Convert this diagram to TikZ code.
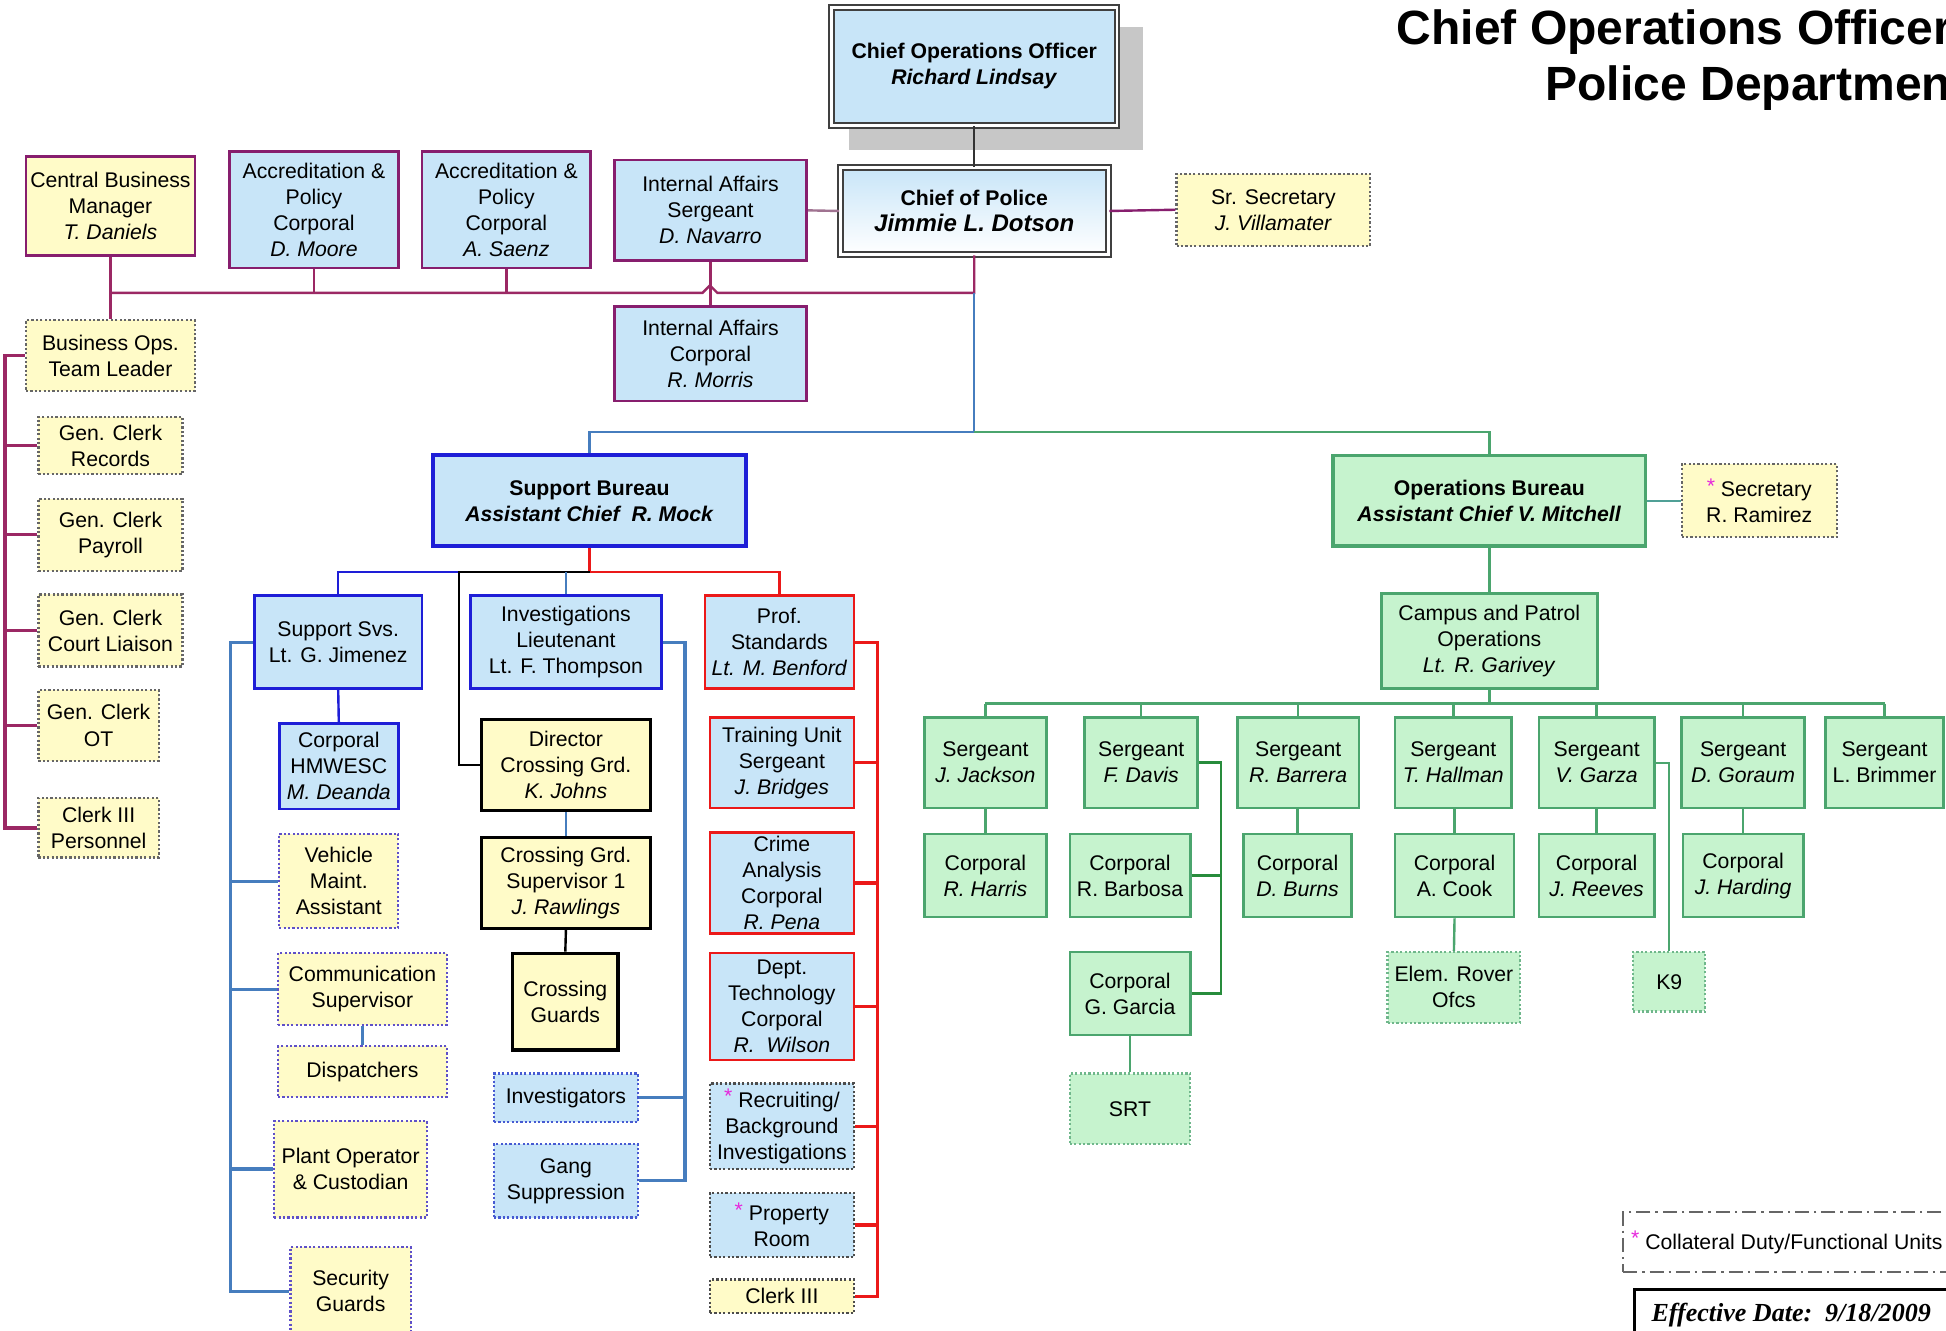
\documentclass[tikz,border=0pt]{standalone}
\usepackage{fontspec}
\setmainfont{Liberation Sans}
\newfontfamily\serifface{Liberation Serif}
\definecolor{fblue}{RGB}{200,229,248}
\definecolor{fyel}{RGB}{255,251,200}
\definecolor{fgrn}{RGB}{198,243,206}
\definecolor{cpurp}{RGB}{135,30,110}
\definecolor{cbus}{RGB}{155,40,100}
\definecolor{cmauve}{RGB}{160,115,145}
\definecolor{cblue}{RGB}{30,30,215}
\definecolor{cred}{RGB}{235,25,25}
\definecolor{cgrn}{RGB}{75,165,110}
\definecolor{cdkgrn}{RGB}{40,140,60}
\definecolor{cteal}{RGB}{80,160,150}
\definecolor{csteel}{RGB}{70,125,190}
\definecolor{cdotp}{RGB}{95,80,200}
\definecolor{cdotb}{RGB}{70,90,210}
\definecolor{cstar}{RGB}{230,40,220}
\newcommand\starm{\textcolor{cstar}{\raisebox{0.3ex}{*}}}
\newcommand\bx[7]{\node[#2, minimum width={(#5-#3)*0.62pt}, minimum height={(#6-#4)*0.62pt}] (#1) at ({(#3+#5)/2},{(#4+#6)/2}) {#7};}
\tikzset{
  box/.style={inner sep=0pt, align=center, font=\fontsize{10.6}{13}\selectfont, line width=1.3pt},
  dotb/.style={dash pattern=on 1.1pt off 1.1pt, line width=1.1pt},
  pbox/.style={box, draw=cpurp, fill=fblue},
  pybox/.style={box, draw=cpurp, fill=fyel},
  ydot/.style={box, dotb, draw=black!60, fill=fyel},
  bbox/.style={box, draw=cblue, fill=fblue},
  rbox/.style={box, draw=cred, fill=fblue},
  kbox/.style={box, draw=black, fill=fyel, line width=1.6pt},
  vdot/.style={box, dotb, draw=cdotp, fill=fyel},
  bdot/.style={box, dotb, draw=cdotb, fill=fblue},
  gdot/.style={box, dotb, draw=black!70, fill=fblue},
  gydot/.style={box, dotb, draw=black!70, fill=fyel},
  gbox/.style={box, draw=cgrn, fill=fgrn},
  gdotbox/.style={box, dotb, draw=cgrn!80, fill=fgrn},
  dbl/.style={box, draw=black!75, double=white, double distance=1.4pt, line width=1pt},
  cl/.style={line width=1.2pt},
}
\begin{document}
\begin{tikzpicture}[x=0.62pt, y=-0.62pt]
\fill[white] (0,0) rectangle (1568,1072);
\useasboundingbox (0,0) rectangle (1568,1072);

% title
\node[anchor=base west, inner sep=0pt, font=\fontsize{24}{28}\selectfont\bfseries] (t1) at (1125,36) {Chief Operations Officer};
\node[anchor=base west, inner sep=0pt, font=\fontsize{24}{28}\selectfont\bfseries] (t2) at (1245,81) {Police Department};

% top level
\fill[black!22] (684,22) rectangle (921,121);
\bx{coo}{dbl, fill=fblue}{670}{6}{900}{101}{\textbf{Chief Operations Officer}\\\textbf{\textit{Richard Lindsay}}}
\bx{cop}{dbl, top color=fblue, bottom color=white}{677}{135}{893}{205}{\textbf{Chief of Police}\\{\fontsize{12}{13}\selectfont\textbf{\textit{Jimmie L. Dotson}}}}
\bx{srsec}{ydot}{948}{140}{1104}{198}{Sr. Secretary\\\textit{J. Villamater}}
\bx{iasgt}{pbox}{495}{129}{650}{210}{Internal Affairs\\Sergeant\\\textit{D. Navarro}}
\bx{iacpl}{pbox}{495}{247}{650}{323}{Internal Affairs\\Corporal\\\textit{R. Morris}}
\bx{moore}{pbox}{185}{122}{321}{216}{Accreditation \&\\Policy\\Corporal\\\textit{D. Moore}}
\bx{saenz}{pbox}{340}{122}{476}{216}{Accreditation \&\\Policy\\Corporal\\\textit{A. Saenz}}
\bx{cbm}{pybox}{21}{126}{157}{206}{Central Business\\Manager\\\textit{T. Daniels}}
\bx{bops}{ydot}{21}{258}{157}{315}{Business Ops.\\Team Leader}
\bx{c1}{ydot}{31}{336}{147}{382}{Gen. Clerk\\Records}
\bx{c2}{ydot}{31}{402}{147}{460}{Gen. Clerk\\Payroll}
\bx{c3}{ydot}{31}{479}{147}{537}{Gen. Clerk\\Court Liaison}
\bx{c4}{ydot}{31}{556}{128}{613}{Gen. Clerk\\OT}
\bx{c5}{ydot}{31}{643}{128}{691}{Clerk III\\Personnel}

\coordinate (bus) at (0,236);
\coordinate (lbar) at (4,0);
\coordinate (mbus) at (0,348);
\draw[cl, black!80] (coo.south) -- (cop.north);
\draw[cl, cpurp] (cop.east) -- (srsec.west);
\draw[cl, cmauve] (iasgt.east) -- (cop.west);
\draw[cl, cbus] (cop.south) -- (cop.south |- bus) -- (578,236) -- (572,230) -- (566,236) -- (cbm.south |- bus);
\draw[cl, cbus] (cbm.south) -- (bops.north);
\draw[cl, cbus] (moore.south) -- (moore.south |- bus);
\draw[cl, cbus] (saenz.south) -- (saenz.south |- bus);
\draw[cl, cbus] (iasgt.south) -- (iacpl.north);
\draw[line width=1.7pt, cbus] (bops.west) -- (bops.west -| lbar) -- (lbar |- c5.west) -- (c5.west);
\foreach \n in {c1,c2,c3,c4} { \draw[line width=1.5pt, cbus] (\n.west) -- (\n.west -| lbar); }

% bureaus
\bx{sb}{bbox, line width=2pt}{349}{367}{601}{440}{\textbf{Support Bureau}\\\textbf{\textit{Assistant Chief\ \ R. Mock}}}
\bx{ob}{gbox, line width=1.6pt}{1074}{367}{1326}{440}{\textbf{Operations Bureau}\\\textbf{\textit{Assistant Chief V. Mitchell}}}
\bx{osec}{ydot}{1355}{374}{1480}{433}{\starm\ Secretary\\R. Ramirez}
\draw[cl, csteel] (cop.south |- bus) -- (cop.south |- mbus) -- (sb.north |- mbus) -- (sb.north);
\draw[cl, cgrn] (cop.south |- mbus) -- (ob.north |- mbus) -- (ob.north);
\draw[cl, cteal] (ob.east) -- (osec.west);

% operations
\bx{cpo}{gbox}{1113}{478}{1287}{555}{Campus and Patrol\\Operations\\\textit{Lt. R. Garivey}}
\bx{s1}{gbox}{745}{578}{843}{651}{Sergeant\\\textit{J. Jackson}}
\bx{s2}{gbox}{874}{578}{965}{651}{Sergeant\\\textit{F. Davis}}
\bx{s3}{gbox}{997}{578}{1095}{651}{Sergeant\\\textit{R. Barrera}}
\bx{s4}{gbox}{1124}{578}{1218}{651}{Sergeant\\\textit{T. Hallman}}
\bx{s5}{gbox}{1240}{578}{1333}{651}{Sergeant\\\textit{V. Garza}}
\bx{s6}{gbox}{1355}{578}{1454}{651}{Sergeant\\\textit{D. Goraum}}
\bx{s7}{gbox}{1471}{578}{1566}{651}{Sergeant\\L. Brimmer}
\bx{k1}{gbox}{745}{672}{843}{739}{Corporal\\\textit{R. Harris}}
\bx{k2}{gbox}{862}{672}{959}{739}{Corporal\\R. Barbosa}
\bx{k3}{gbox}{1002}{672}{1089}{739}{Corporal\\\textit{D. Burns}}
\bx{k4}{gbox}{1124}{672}{1220}{739}{Corporal\\A. Cook}
\bx{k5}{gbox}{1240}{672}{1333}{739}{Corporal\\\textit{J. Reeves}}
\bx{k6}{gbox}{1356}{672}{1453}{739}{Corporal\\\textit{J. Harding}}
\bx{garcia}{gbox}{862}{767}{959}{834}{Corporal\\G. Garcia}
\bx{srt}{gdotbox}{862}{865}{959}{922}{SRT}
\bx{rover}{gdotbox}{1118}{767}{1225}{824}{Elem. Rover\\Ofcs}
\bx{kn}{gdotbox}{1316}{767}{1374}{815}{K9}

\coordinate (sbus) at (0,567);
\coordinate (dv) at (984,0);
\draw[cl, cgrn] (ob.south) -- (cpo.north);
\draw[cl, cgrn] (cpo.south) -- (cpo.south |- sbus);
\draw[cl, cgrn] (s1.north |- sbus) -- (s7.north |- sbus);
\foreach \n in {s1,s2,s3,s4,s5,s6,s7} { \draw[cl, cgrn] (\n.north |- sbus) -- (\n.north); }
\draw[cl, cgrn] (s1.south) -- (k1.north);
\draw[cl, cgrn] (k3.north |- s3.south) -- (k3.north);
\draw[cl, cgrn] (k4.north |- s4.south) -- (k4.north);
\draw[cl, cgrn] (k4.south) -- (rover.north);
\draw[cl, cgrn] (s5.south) -- (k5.north);
\draw[cl, cgrn] (s6.south) -- (k6.north);
\draw[cl, cgrn] (garcia.south) -- (srt.north);
\draw[cl, cdkgrn] (s2.east) -- (s2.east -| dv) -- (dv |- garcia.east) -- (garcia.east);
\draw[cl, cdkgrn] (k2.east) -- (k2.east -| dv);
\draw[line width=0.9pt, cgrn] (s5.east) -| (kn.north);

% support bureau children
\bx{ss}{bbox}{205}{480}{340}{555}{Support Svs.\\Lt. G. Jimenez}
\bx{inv}{bbox}{379}{480}{533}{555}{Investigations\\Lieutenant\\Lt. F. Thompson}
\bx{prof}{rbox}{568}{480}{688}{555}{Prof.\\Standards\\\textit{Lt. M. Benford}}
\bx{hm}{bbox}{225}{583}{321}{652}{Corporal\\HMWESC\\\textit{M. Deanda}}
\bx{vm}{vdot}{225}{672}{321}{748}{Vehicle\\Maint.\\Assistant}
\bx{comm}{vdot}{224}{768}{360}{826}{Communication\\Supervisor}
\bx{disp}{vdot}{224}{843}{360}{884}{Dispatchers}
\bx{plant}{vdot}{221}{903}{344}{981}{Plant Operator\\\& Custodian}
\bx{sg}{vdot}{234}{1005}{331}{1076}{Security\\Guards}
\bx{dir}{kbox}{388}{580}{524}{653}{Director\\Crossing Grd.\\\textit{K. Johns}}
\bx{sup}{kbox}{388}{675}{524}{748}{Crossing Grd.\\Supervisor 1\\\textit{J. Rawlings}}
\bx{cg}{kbox}{413}{768}{498}{846}{Crossing\\Guards}
\bx{invs}{bdot}{398}{865}{514}{904}{Investigators}
\bx{gang}{bdot}{398}{922}{514}{981}{Gang\\Suppression}
\bx{train}{rbox}{572}{578}{688}{651}{Training Unit\\Sergeant\\\textit{J. Bridges}}
\bx{crime}{rbox}{572}{671}{688}{752}{Crime\\Analysis\\Corporal\\\textit{R. Pena}}
\bx{dept}{rbox}{572}{768}{688}{854}{Dept.\\Technology\\Corporal\\\textit{R.\ \ Wilson}}
\bx{recr}{gdot}{572}{873}{688}{942}{\starm\ Recruiting/\\Background\\Investigations}
\bx{prop}{gdot}{572}{961}{688}{1013}{\starm\ Property\\Room}
\bx{clk}{gydot}{572}{1031}{688}{1058}{Clerk III}

\coordinate (tbus) at (0,461);
\coordinate (kx) at (370,0);
\coordinate (lb) at (186,0);
\coordinate (rb) at (552,0);
\coordinate (redx) at (707,0);
\draw[cl, cred] (sb.south) -- (sb.south |- tbus) -- (prof.north |- tbus) -- (prof.north);
\draw[cl, cblue] (kx |- tbus) -- (ss.north |- tbus) -- (ss.north);
\draw[cl, black] (sb.south |- tbus) -- (kx |- tbus) -- (kx |- dir.west) -- (dir.west);
\draw[line width=0.9pt, csteel] (inv.north |- tbus) -- (inv.north);
\draw[cl, cblue] (ss.south) -- (hm.north);
\draw[line width=1.6pt, csteel] (ss.west) -- (ss.west -| lb) -- (lb |- sg.west) -- (sg.west);
\foreach \n in {vm,comm,plant} { \draw[line width=1.6pt, csteel] (\n.west) -- (\n.west -| lb); }
\draw[cl, csteel] (comm.south) -- (disp.north);
\draw[cl, csteel] (dir.south) -- (sup.north);
\draw[cl, black] (sup.south) -- (cg.north);
\draw[line width=1.6pt, csteel] (inv.east) -- (inv.east -| rb) -- (rb |- gang.east) -- (gang.east);
\draw[line width=1.6pt, csteel] (invs.east) -- (invs.east -| rb);
\draw[line width=1.6pt, cred] (prof.east) -- (prof.east -| redx) -- (redx |- clk.east) -- (clk.east);
\foreach \n in {train,crime,dept,recr,prop} { \draw[line width=1.6pt, cred] (\n.east) -- (\n.east -| redx); }

% legend
\node[draw=black!60, line width=1pt, dash pattern=on 7pt off 2.5pt on 1.2pt off 2.5pt, anchor=west, minimum height=29.8pt, inner xsep=4pt, font=\fontsize{10.6}{13}\selectfont] (leg) at (1307,1001) {\starm\ Collateral Duty/Functional Units};
\node[draw=black, line width=1.3pt, anchor=west, minimum height=25.4pt, inner xsep=8.5pt, font=\fontsize{13}{15}\serifface\bfseries\itshape] (eff) at (1316,1059.5) {Effective Date:\ \ 9/18/2009};
\end{tikzpicture}
\end{document}
